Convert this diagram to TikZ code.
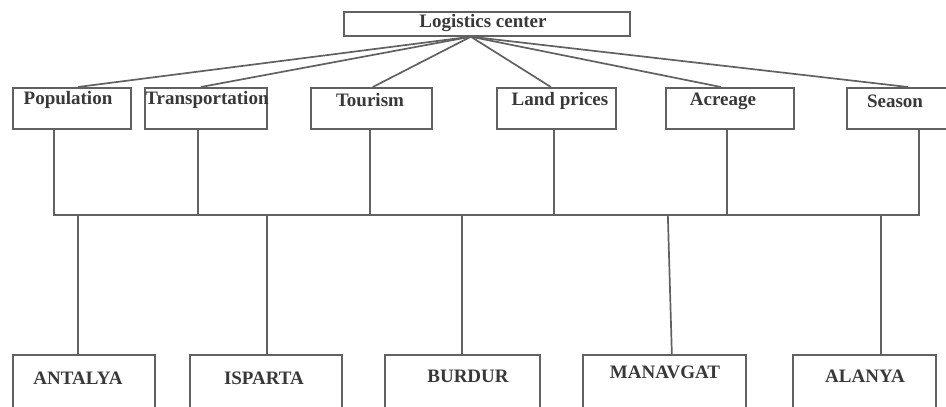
\documentclass[tikz,border=0pt]{standalone}
\usepackage{fontspec}
\setmainfont{Liberation Serif}
\begin{document}
\begin{tikzpicture}[x=1pt,y=-1pt,
  box/.style={draw=black!62, line width=1.7pt, rectangle, inner sep=0pt, anchor=north west},
  lbl/.style={inner sep=0pt, font=\fontsize{19}{21}\selectfont\bfseries, text=black!78},
  conn/.style={draw=black!62, line width=1.7pt}]
\useasboundingbox (0,0) rectangle (946,407);
\clip (0,0) rectangle (946,407);
% top
\node[box, minimum width=286pt, minimum height=24pt] (top) at (343,11) {};
\node[lbl] (topT) at (483,23) {Logistics center};
% middle
\node[box, minimum width=118pt, minimum height=41pt] (pop) at (12,87) {};
\node[box, minimum width=122pt, minimum height=41pt] (trans) at (144,87) {};
\node[box, minimum width=121pt, minimum height=41pt] (tour) at (310,87) {};
\node[box, minimum width=119pt, minimum height=41pt] (land) at (496,87) {};
\node[box, minimum width=128pt, minimum height=41pt] (acre) at (665,87) {};
\node[box, minimum width=118pt, minimum height=41pt] (seas) at (846,87) {};
\node[lbl] (popT) at (68,100) {Population};
\node[lbl] (transT) at (207,100) {Transportation};
\node[lbl] (tourT) at (370,100) {Tourism};
\node[lbl] (landT) at (560,101) {Land prices};
\node[lbl] (acreT) at (723,101) {Acreage};
\node[lbl] (seasT) at (895,101) {Season};
% bottom
\node[box, minimum width=142pt, minimum height=80pt] (ant) at (12,354) {};
\node[box, minimum width=152pt, minimum height=80pt] (isp) at (189,354) {};
\node[box, minimum width=155pt, minimum height=80pt] (bur) at (384,354) {};
\node[box, minimum width=163pt, minimum height=80pt] (man) at (582,354) {};
\node[box, minimum width=143pt, minimum height=80pt] (ala) at (792,354) {};
\node[lbl] (antT) at (78,378) {ANTALYA};
\node[lbl] (ispT) at (264,378) {ISPARTA};
\node[lbl] (burT) at (468,376) {BURDUR};
\node[lbl] (manT) at (665,372) {MANAVGAT};
\node[lbl] (alaT) at (865,376) {ALANYA};
% fan from top
\coordinate (hub) at ([xshift=-16pt]top.south);
\draw[conn] (hub) -- ([xshift=6pt]pop.north);
\draw[conn] (hub) -- ([xshift=-5pt]trans.north);
\draw[conn] (hub) -- ([xshift=1.5pt]tour.north);
\draw[conn] (hub) -- ([xshift=-5.5pt]land.north);
\draw[conn] (hub) -- ([xshift=-9pt]acre.north);
\draw[conn] (hub) -- ([xshift=2pt]seas.north);
% bus
\coordinate (bar) at (0,215);
\draw[conn] ([xshift=-18pt]pop.south) -- ([xshift=-18pt]pop.south |- bar)
  -- ([xshift=13pt]seas.south |- bar) -- ([xshift=13pt]seas.south);
\draw[conn] ([xshift=-8pt]trans.south) -- ([xshift=-8pt]trans.south |- bar);
\draw[conn] ([xshift=-1.5pt]tour.south) -- ([xshift=-1.5pt]tour.south |- bar);
\draw[conn] ([xshift=-2.5pt]land.south) -- ([xshift=-2.5pt]land.south |- bar);
\draw[conn] ([xshift=-3pt]acre.south) -- ([xshift=-3pt]acre.south |- bar);
% down to cities
\draw[conn] ([xshift=-6pt]ant.north) -- ([xshift=-6pt]ant.north |- bar);
\draw[conn] ([xshift=1pt]isp.north) -- ([xshift=1pt]isp.north |- bar);
\draw[conn] ([xshift=-0.5pt]bur.north) -- ([xshift=-0.5pt]bur.north |- bar);
\draw[conn] ([xshift=7.5pt]man.north) -- ([xshift=3.5pt]man.north |- bar);
\draw[conn] ([xshift=16.5pt]ala.north) -- ([xshift=16.5pt]ala.north |- bar);
\end{tikzpicture}
\end{document}
